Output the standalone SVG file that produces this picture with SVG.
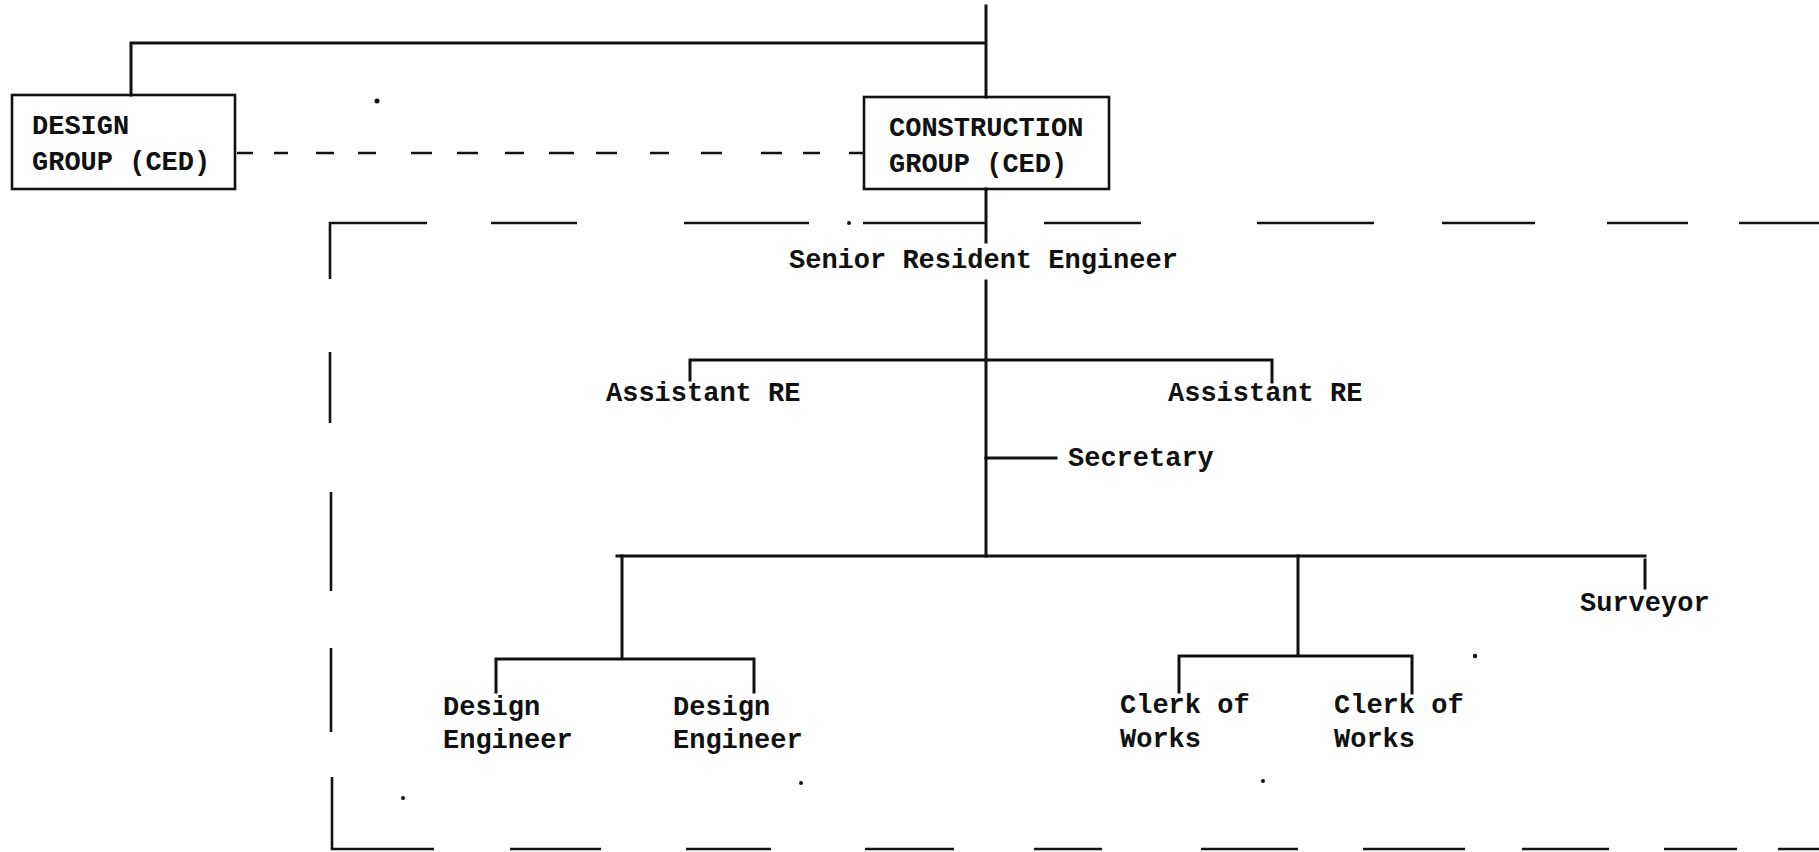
<svg xmlns="http://www.w3.org/2000/svg" width="1819" height="852" viewBox="0 0 1819 852">
<style>
.bg{fill:#ffffff}
.box{fill:none;stroke:#111;stroke-width:2.6}
.ln{fill:none;stroke:#111;stroke-width:3;stroke-linecap:square}
.dl{fill:none;stroke:#111;stroke-width:2.6}
.t{font-family:"Liberation Mono","Courier New",monospace;font-size:27px;font-weight:bold;fill:#111}
.dot{fill:#111}
</style>
<rect class="bg" x="0" y="0" width="1819" height="852"/>
<g id="connectors">
  <path class="ln" d="M986 6 V97 M986 43 H131 V95"/>
  <path class="ln" d="M986 189 V242"/>
  <path class="ln" d="M986 281 V556"/>
  <path class="ln" d="M690 380 V360 H1272 V382"/>
  <path class="ln" d="M986 458 H1056"/>
  <path class="ln" d="M617 556 H1645 M1645 560 V588"/>
  <path class="ln" d="M622 556 V659 M496 692 V659 H754 V692"/>
  <path class="ln" d="M1298 556 V656 M1179 692 V656 H1412 V693"/>
  <path class="dl" d="M237 153 H253 M274 153 H288 M316 153 H334 M358 153 H376 M411 153 H432 M457 153 H478 M505 153 H524 M549 153 H574 M596 153 H617 M650 153 H669 M701 153 H722 M761 153 H782 M803 153 H820 M849 153 H864"/>
</g>
<g id="boundary">
  <path class="dl" d="M330 279 V223 H427 M491 223 H577 M684 223 H809 M863 223 H987 M1044 223 H1141 M1257 223 H1374 M1442 223 H1535 M1607 223 H1688 M1739 223 H1819"/>
  <path class="dl" d="M330 352 V423 M331 492 V591 M331 648 V732 M332 777 V849 H434 M510 849 H601 M686 849 H771 M865 849 H954 M1034 849 H1102 M1201 849 H1298 M1363 849 H1465 M1522 849 H1609 M1664 849 H1737 M1778 849 H1819"/>
</g>
<g id="specks">
  <circle class="dot" cx="377" cy="101" r="2.5"/>
  <circle class="dot" cx="849" cy="223" r="2"/>
  <circle class="dot" cx="403" cy="798" r="2"/>
  <circle class="dot" cx="801" cy="783" r="2"/>
  <circle class="dot" cx="1475" cy="656" r="2.2"/>
  <circle class="dot" cx="1263" cy="781" r="2"/>
</g>
<g id="design-group">
  <rect class="box" x="12" y="95" width="223" height="94"/>
  <text class="t" x="32" y="134">DESIGN</text>
  <text class="t" x="32" y="170">GROUP (CED)</text>
</g>
<g id="construction-group">
  <rect class="box" x="864" y="97" width="245" height="92"/>
  <text class="t" x="889" y="136">CONSTRUCTION</text>
  <text class="t" x="889" y="172">GROUP (CED)</text>
</g>
<g id="senior-resident-engineer">
  <text class="t" x="789" y="268">Senior Resident Engineer</text>
</g>
<g id="assistant-re-1">
  <text class="t" x="606" y="401">Assistant RE</text>
</g>
<g id="assistant-re-2">
  <text class="t" x="1168" y="401">Assistant RE</text>
</g>
<g id="secretary">
  <text class="t" x="1068" y="466">Secretary</text>
</g>
<g id="surveyor">
  <text class="t" x="1580" y="611">Surveyor</text>
</g>
<g id="design-engineer-1">
  <text class="t" x="443" y="715">Design</text>
  <text class="t" x="443" y="748">Engineer</text>
</g>
<g id="design-engineer-2">
  <text class="t" x="673" y="715">Design</text>
  <text class="t" x="673" y="748">Engineer</text>
</g>
<g id="clerk-of-works-1">
  <text class="t" x="1120" y="713">Clerk of</text>
  <text class="t" x="1120" y="747">Works</text>
</g>
<g id="clerk-of-works-2">
  <text class="t" x="1334" y="713">Clerk of</text>
  <text class="t" x="1334" y="747">Works</text>
</g>
</svg>
